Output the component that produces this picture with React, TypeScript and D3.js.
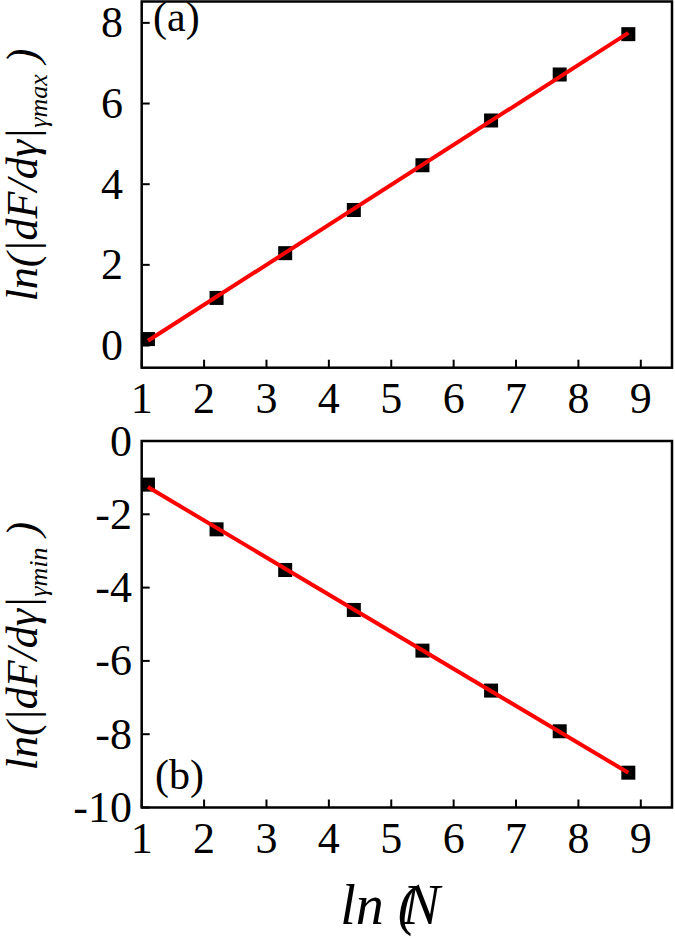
import React from 'react'
import * as d3 from 'd3'

// ln N for N = 3, 9, 27, ...
const lnN = [1.1, 2.2, 3.3, 4.4, 5.5, 6.6, 7.7, 8.8]
const slopeMax = [0.16, 1.18, 2.29, 3.36, 4.47, 5.58, 6.72, 7.72]
const slopeMin = [-1.19, -2.41, -3.52, -4.61, -5.72, -6.81, -7.92, -9.05]
const xTicks = [1, 2, 3, 4, 5, 6, 7, 8, 9]
const yTicksA = [0, 2, 4, 6, 8]
const yTicksB = [0, -2, -4, -6, -8, -10]

const W = 675
const H = 938
const FONT = "'Liberation Serif', 'Times New Roman', serif"

function fit(xs: number[], ys: number[]) {
  const mx = d3.mean(xs) as number
  const my = d3.mean(ys) as number
  const b = d3.sum(xs, (x, i) => (x - mx) * (ys[i] - my)) / d3.sum(xs, (x) => (x - mx) ** 2)
  return (x: number) => my + b * (x - mx)
}

function Panel({ ys, yTicks, yDomain, top, bottom, tag, labelEnd, sub, labelCy }: any) {
  const x = d3.scaleLinear().domain([1, 9.5]).range([141.7, 672])
  const y = d3.scaleLinear().domain(yDomain).range([bottom, top])
  const f = fit(lnN, ys)
  const line = d3.line<number>().x((d) => x(d)).y((d) => y(f(d)))
  const x0 = x.range()[0]
  const x1 = x.range()[1]
  return (
    <g>
      <rect x={x0} y={top} width={x1 - x0} height={bottom - top} fill="none" stroke="#000" strokeWidth={2.5} />
      {xTicks.map((t) => (
        <g key={'x' + t}>
          <line x1={x(t)} x2={x(t)} y1={bottom} y2={bottom - 8} stroke="#000" strokeWidth={2} />
          <text x={x(t)} y={bottom + 45} textAnchor="middle" fontSize={44} fontFamily={FONT}>{t}</text>
        </g>
      ))}
      {yTicks.map((t: number) => (
        <g key={'y' + t}>
          <line x1={x0} x2={x0 + 8} y1={y(t)} y2={y(t)} stroke="#000" strokeWidth={2} />
          <text x={labelEnd} y={y(t)} dy="0.33em" textAnchor="end" fontSize={44} fontFamily={FONT}>{t}</text>
        </g>
      ))}
      {lnN.map((v, i) => (
        <rect key={'p' + i} x={x(v) - 7} y={y(ys[i]) - 7} width={14} height={14} fill="#000" />
      ))}
      <path d={line([lnN[0], lnN[lnN.length - 1]]) as string} fill="none" stroke="#ff0000" strokeWidth={4} />
      <text x={tag.x} y={tag.y} fontSize={42} fontFamily={FONT}>{tag.text}</text>
      <text transform={`translate(37,${labelCy}) rotate(-90)`} textAnchor="middle" fontSize={44} fontStyle="italic" fontFamily={FONT}>
        ln(|dF/dγ|
        <tspan fontSize={26} dy={10}>{sub}</tspan>
        <tspan dy={-10}> )</tspan>
      </text>
    </g>
  )
}

export default function App() {
  return (
    <svg width={W} height={H} style={{ display: 'block', position: 'absolute', left: 0, top: 0 }}>
      <rect width={W} height={H} fill="#fff" />
      <Panel ys={slopeMax} yTicks={yTicksA} yDomain={[-0.55, 8.53]} top={1.5} bottom={367.7}
        tag={{ text: '(a)', x: 153, y: 31 }} labelEnd={123} sub="γmax" labelCy={175} />
      <Panel ys={slopeMin} yTicks={yTicksB} yDomain={[-10, 0]} top={441} bottom={807.5}
        tag={{ text: '(b)', x: 155, y: 789 }} labelEnd={132} sub="γmin" labelCy={646} />
      <text x={390} y={924} textAnchor="middle" fontSize={56} fontStyle="italic" fontFamily={FONT}>
        ln (<tspan dx={-14}>N</tspan>
      </text>
    </svg>
  )
}
